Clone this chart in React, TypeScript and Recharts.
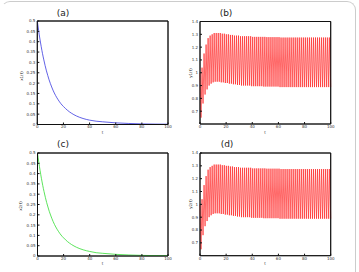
import React from "react";
import { LineChart, Line, XAxis, YAxis, ReferenceArea } from "recharts";

// decay curves, panels (a) and (c)
const tDecay = [0, 1, 2, 3, 4, 5, 6, 7, 8, 9, 10, 12, 14, 16, 18, 20, 23, 26, 30, 35, 40, 45, 50, 60, 70, 80, 90, 100];
const x1Vals = [0.5, 0.455, 0.413, 0.376, 0.342, 0.312, 0.284, 0.259, 0.237, 0.216, 0.198, 0.166, 0.14, 0.119, 0.101, 0.087, 0.069, 0.055, 0.041, 0.029, 0.021, 0.016, 0.013, 0.008, 0.005, 0.003, 0.002, 0.0015];
const x2Vals = [0.5, 0.455, 0.414, 0.377, 0.343, 0.313, 0.285, 0.26, 0.238, 0.217, 0.199, 0.167, 0.141, 0.12, 0.102, 0.088, 0.07, 0.056, 0.042, 0.03, 0.022, 0.016, 0.013, 0.008, 0.005, 0.003, 0.002, 0.0015];

const yPeaks = [
  1.0, 1.04, 1.15, 1.22, 1.27, 1.29, 1.3, 1.31, 1.31, 1.31,
  1.31, 1.305, 1.305, 1.3, 1.3, 1.295, 1.295, 1.29, 1.29, 1.29,
  1.285, 1.285, 1.285, 1.285, 1.285, 1.285, 1.28, 1.28, 1.28, 1.28,
  1.28, 1.28, 1.28, 1.278, 1.278, 1.278, 1.278, 1.278, 1.278, 1.278,
  1.275, 1.275, 1.275, 1.275, 1.275, 1.275, 1.275, 1.275, 1.275, 1.275,
  1.275, 1.275, 1.275, 1.275, 1.275, 1.275, 1.275, 1.275, 1.275, 1.275,
  1.275, 1.275, 1.275, 1.275, 1.275,
];
const yTroughs = [
  0.65, 0.76, 0.83, 0.87, 0.9, 0.915, 0.925, 0.93, 0.93, 0.93,
  0.925, 0.925, 0.92, 0.92, 0.915, 0.915, 0.91, 0.91, 0.905, 0.905,
  0.9, 0.9, 0.9, 0.9, 0.9, 0.895, 0.895, 0.895, 0.895, 0.895,
  0.895, 0.892, 0.892, 0.892, 0.892, 0.892, 0.892, 0.892, 0.892, 0.888,
  0.888, 0.888, 0.888, 0.888, 0.888, 0.888, 0.888, 0.888, 0.888, 0.888,
  0.888, 0.888, 0.888, 0.888, 0.888, 0.888, 0.888, 0.888, 0.888, 0.888,
  0.888, 0.888, 0.888, 0.888, 0.888,
];
const halfStep = 100 / 129;

const tTicks = [0, 20, 40, 60, 80, 100];
const xTicks = [0, 0.05, 0.1, 0.15, 0.2, 0.25, 0.3, 0.35, 0.4, 0.45, 0.5];
const yTicks = [0.7, 0.8, 0.9, 1, 1.1, 1.2, 1.3, 1.4];

const decayData = tDecay.map((t, i) => ({ t, x1: x1Vals[i], x2: x2Vals[i] }));
const oscData: { t: number; v: number }[] = [];
for (let j = 0; j < yPeaks.length + yTroughs.length; j++) {
  const v = j % 2 === 0 ? yPeaks[j / 2] : yTroughs[(j - 1) / 2];
  oscData.push({ t: j * halfStep, v });
}

const tickStyle = { fontSize: 4, fill: "#333", fontFamily: "DejaVu Sans" };
const labelFont = "DejaVu Sans";

function Panel({ data, dataKey, color, strokeW, domain, ticks, left, top, width, height, margin, yw, lineType }: any) {
  return (
    <div style={{ position: "absolute", left, top }}>
      <LineChart width={width} height={height} data={data} margin={margin}>
        <XAxis xAxisId="b" dataKey="t" type="number" domain={[0, 100]} ticks={tTicks} interval={0}
          tickSize={-2} tickMargin={3} height={10} tick={tickStyle} stroke="#111" />
        <XAxis xAxisId="t" orientation="top" dataKey="t" type="number" domain={[0, 100]} ticks={tTicks}
          tick={false} tickSize={-2} height={2} stroke="#111" />
        <YAxis yAxisId="l" type="number" domain={domain} ticks={ticks} interval={0} allowDataOverflow
          tickSize={-2} tickMargin={4} width={yw} tick={tickStyle} stroke="#111" />
        <YAxis yAxisId="r" orientation="right" type="number" domain={domain} ticks={ticks} allowDataOverflow
          tick={false} tickSize={-2} width={2} stroke="#111" />
        <Line xAxisId="b" yAxisId="l" type={lineType} dataKey={dataKey} stroke={color} strokeWidth={strokeW}
          dot={false} isAnimationActive={false} />
        <ReferenceArea xAxisId="b" yAxisId="l" x1={0} x2={100} y1={domain[0]} y2={domain[1]}
          fill="none" fillOpacity={0} stroke="#111" strokeWidth={0.8} ifOverflow="visible" />
      </LineChart>
    </div>
  );
}

function Txt({ x, y, size, rotate, children }: any) {
  return (
    <span style={{
      position: "absolute", left: x, top: y, fontSize: size, fontFamily: labelFont, color: "#222",
      transform: `translate(-50%, -50%)${rotate ? " rotate(-90deg)" : ""}`, whiteSpace: "nowrap", lineHeight: 1,
    }}>{children}</span>
  );
}

export default function App() {
  return (
    <div style={{ position: "absolute", left: 0, top: 0, width: 359, height: 272, overflow: "hidden", background: "#fff" }}>
      <div style={{
        position: "absolute", left: 1, top: 1, width: 353, height: 300,
        borderTop: "1.5px solid #ccc", borderRight: "1.5px solid #ccc", borderLeft: "1.5px solid transparent",
        borderTopRightRadius: 9, borderTopLeftRadius: 9,
      }} />
      <Panel data={decayData} dataKey="x1" color="#3a3ae0" strokeW={0.8} domain={[0, 0.5]} ticks={xTicks} lineType="monotone"
        left={0} top={0} width={180} height={136} yw={20} margin={{ left: 17.3, right: 10, top: 19, bottom: 1.5 }} />
      <Panel data={oscData} dataKey="v" color="#ff2a2a" strokeW={0.7} domain={[0.6, 1.4]} ticks={yTicks} lineType="linear"
        left={180} top={0} width={179} height={136} yw={16} margin={{ left: 4, right: 26.3, top: 19.5, bottom: 2 }} />
      <Panel data={decayData} dataKey="x2" color="#33dd33" strokeW={0.8} domain={[0, 0.5]} ticks={xTicks} lineType="monotone"
        left={0} top={136} width={180} height={136} yw={20} margin={{ left: 17.5, right: 10, top: 15, bottom: 6 }} />
      <Panel data={oscData} dataKey="v" color="#ff2a2a" strokeW={0.7} domain={[0.6, 1.4]} ticks={yTicks} lineType="linear"
        left={180} top={136} width={179} height={136} yw={16} margin={{ left: 4, right: 26.3, top: 15, bottom: 6.3 }} />

      <Txt x={63} y={13} size={9}>(a)</Txt>
      <Txt x={226} y={13} size={9}>(b)</Txt>
      <Txt x={63} y={144} size={9}>(c)</Txt>
      <Txt x={227} y={144} size={9}>(d)</Txt>

      <Txt x={22} y={76} size={4} rotate>x1(t)</Txt>
      <Txt x={191} y={73} size={4} rotate>y1(t)</Txt>
      <Txt x={21} y={206} size={4} rotate>x2(t)</Txt>
      <Txt x={191} y={204} size={4} rotate>y2(t)</Txt>

      <Txt x={102.5} y={133} size={4}>t</Txt>
      <Txt x={265} y={133} size={4}>t</Txt>
      <Txt x={102.5} y={264} size={4}>t</Txt>
      <Txt x={265} y={264} size={4}>t</Txt>
    </div>
  );
}
